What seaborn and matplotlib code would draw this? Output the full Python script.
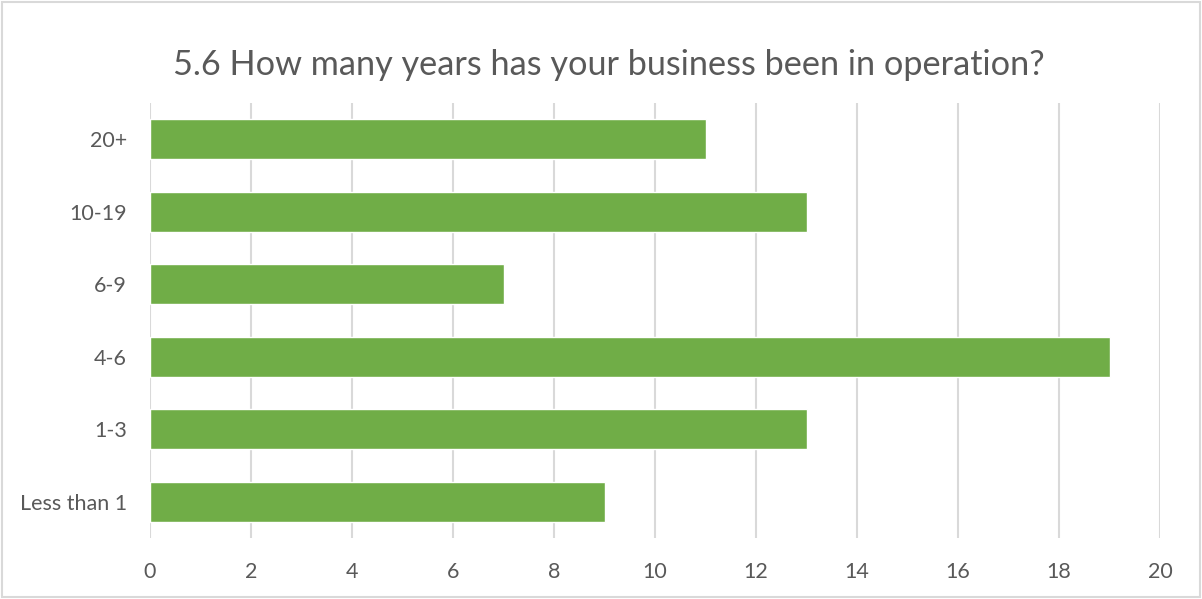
import pandas as pd
import matplotlib.pyplot as plt
import seaborn as sns

# veriler
kategoriler = ["20+", "10-19", "6-9", "4-6", "1-3", "Less than 1"]
degerler = [11, 13, 7, 19, 13, 9]
x_ticks = [0, 2, 4, 6, 8, 10, 12, 14, 16, 18, 20]

veri = pd.DataFrame({"yil": kategoriler, "sayi": degerler})

sns.set_style("white")
plt.rcParams["font.family"] = ["Lato", "DejaVu Sans"]

fig = plt.figure(figsize=(12.02, 5.99), dpi=100)
ax = fig.add_axes([150 / 1202, 1 - 538 / 599, 1010 / 1202, 435 / 599])

sns.barplot(data=veri, x="sayi", y="yil", order=kategoriler, color="#70AD47",
            saturation=1, width=0.55, ax=ax, zorder=3)

ax.set_xlim(0, 20)
ax.set_ylim(5.5, -0.5)
ax.set_xticks(x_ticks)
ax.grid(axis="x", color="#d9d9d9", linewidth=1.5, zorder=0)
ax.set_axisbelow(True)
for s in ax.spines.values():
    s.set_visible(False)
ax.tick_params(axis="both", length=0, labelsize=15.5, labelcolor="#595959")
ax.tick_params(axis="y", pad=16.5)
ax.tick_params(axis="x", pad=17)
ax.set_xlabel("")
ax.set_ylabel("")

fig.text(609 / 1202, 1 - 65 / 599, "5.6 How many years has your business been in operation?",
         ha="center", va="center", fontsize=24.7, color="#595959")

# dis cerceve
fig.patches.append(plt.Rectangle((0.002, 0.003), 0.996, 0.994, transform=fig.transFigure,
                                 fill=False, edgecolor="#d9d9d9", linewidth=1.5))

fig.savefig("out.png", dpi=100)
